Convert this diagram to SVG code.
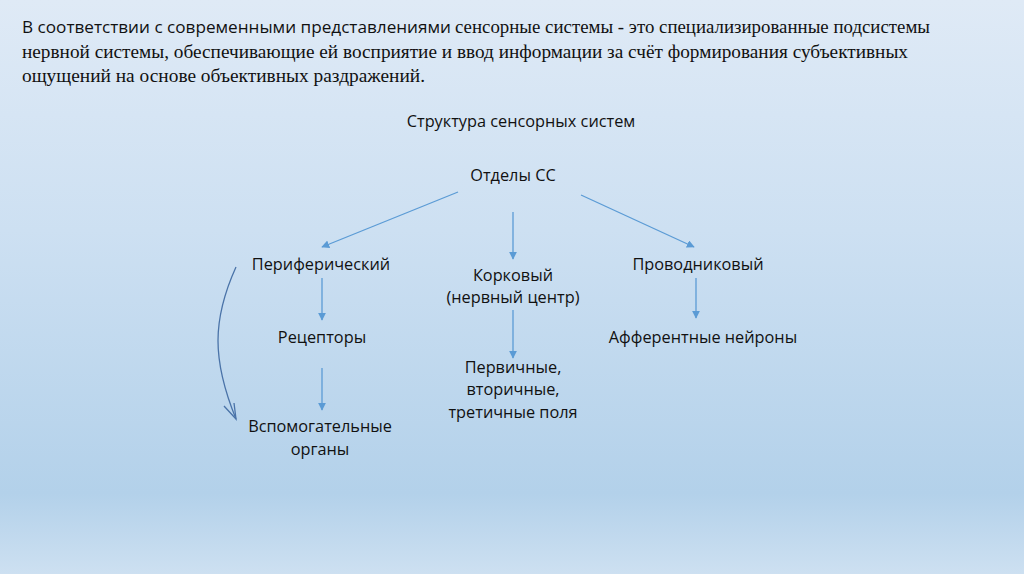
<svg xmlns="http://www.w3.org/2000/svg" width="1024" height="574" viewBox="0 0 1024 574">
<defs>
<linearGradient id="bg" x1="0" y1="0" x2="0" y2="1">
<stop offset="0" stop-color="#dfeaf6"/>
<stop offset="0.4" stop-color="#cde0f2"/>
<stop offset="0.86" stop-color="#b3d1ea"/>
<stop offset="1" stop-color="#cde0f1"/>
</linearGradient>
<marker id="ah" viewBox="0 0 10 10" refX="9" refY="5" markerWidth="8" markerHeight="8" markerUnits="userSpaceOnUse" orient="auto">
<path d="M0,0 L10,5 L0,10 z" fill="#5b9bd5"/>
</marker>
<style>
.lbl{font-family:"Open Sans","Noto Sans","Liberation Sans",sans-serif;font-size:16.3px;fill:#111;text-anchor:middle}
.con{stroke:#5b9bd5;stroke-width:1.3;fill:none;marker-end:url(#ah)}
.hd{font-family:"Liberation Serif","DejaVu Serif",serif;font-size:18px;fill:#111}
.hs{font-family:"Open Sans","Liberation Sans",sans-serif;font-size:17px;fill:#111}
</style>
</defs>
<rect width="1024" height="574" fill="url(#bg)"/>
<g id="header">
<text x="22" y="33" class="hs" textLength="429" lengthAdjust="spacingAndGlyphs">В соответствии с современными представлениями</text>
<text x="455" y="33" class="hd" textLength="475" lengthAdjust="spacingAndGlyphs">сенсорные системы - это специализированные подсистемы</text>
<text x="22" y="58" class="hd" textLength="886" lengthAdjust="spacingAndGlyphs">нервной системы, обеспечивающие ей восприятие и ввод информации за счёт формирования субъективных</text>
<text x="22" y="82" class="hd" textLength="403" lengthAdjust="spacingAndGlyphs">ощущений на основе объективных раздражений.</text>
</g>
<g id="title"><text x="521" y="127" class="lbl">Структура сенсорных систем</text></g>
<g id="otdely"><text x="513" y="181" class="lbl">Отделы СС</text></g>
<g id="periph"><text x="321" y="270" class="lbl">Периферический</text></g>
<g id="korkovy"><text x="513" y="281" class="lbl">Корковый</text><text x="513" y="303" class="lbl">(нервный центр)</text></g>
<g id="provod"><text x="698" y="270" class="lbl">Проводниковый</text></g>
<g id="receptory"><text x="322" y="343" class="lbl">Рецепторы</text></g>
<g id="afferent"><text x="703" y="343" class="lbl">Афферентные нейроны</text></g>
<g id="polya"><text x="513" y="373" class="lbl">Первичные,</text><text x="513" y="395" class="lbl">вторичные,</text><text x="513" y="418" class="lbl">третичные поля</text></g>
<g id="vspom"><text x="320" y="432" class="lbl">Вспомогательные</text><text x="320" y="455" class="lbl">органы</text></g>
<g id="connectors">
<line class="con" x1="458" y1="192" x2="322" y2="247"/>
<line class="con" x1="513" y1="212" x2="513" y2="259"/>
<line class="con" x1="581" y1="195" x2="694" y2="247"/>
<line class="con" x1="322" y1="278" x2="322" y2="320"/>
<line class="con" x1="322" y1="368" x2="322" y2="410"/>
<line class="con" x1="696" y1="278" x2="696" y2="318"/>
<line class="con" x1="513" y1="310" x2="513" y2="358"/>
<path d="M236,267 C212,320 212,360 236,419" stroke="#4a73a8" stroke-width="1.3" fill="none"/>
<path d="M224,406 L236,419 L234,403" stroke="#4a73a8" stroke-width="1.3" fill="none"/>
</g>
</svg>
